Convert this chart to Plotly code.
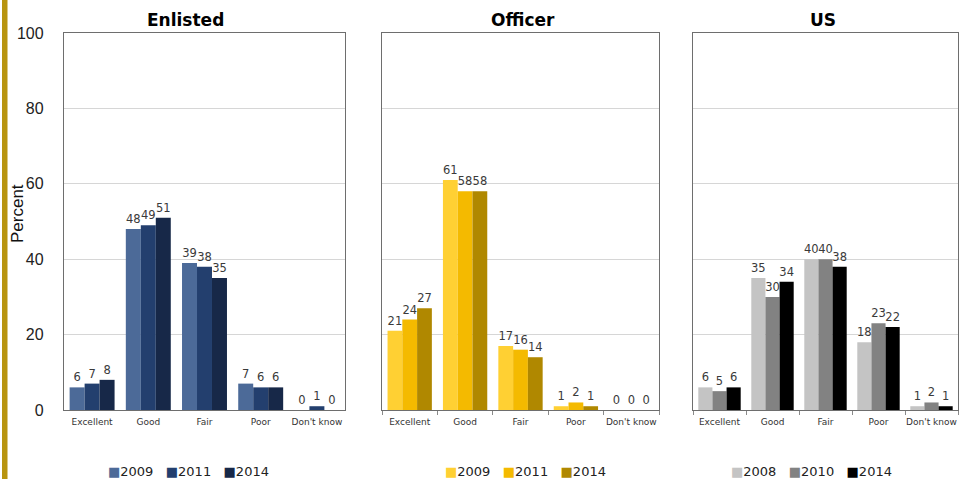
import plotly.graph_objects as go

# Self-rated health, percent by response category
categories = ["Excellent", "Good", "Fair", "Poor", "Don't know"]

enlisted_years = ["2009", "2011", "2014"]
enlisted_2009 = [6, 48, 39, 7, 0]
enlisted_2011 = [7, 49, 38, 6, 1]
enlisted_2014 = [8, 51, 35, 6, 0]

officer_years = ["2009", "2011", "2014"]
officer_2009 = [21, 61, 17, 1, 0]
officer_2011 = [24, 58, 16, 2, 0]
officer_2014 = [27, 58, 14, 1, 0]

us_years = ["2008", "2010", "2014"]
us_2008 = [6, 35, 40, 18, 1]
us_2010 = [5, 30, 40, 23, 2]
us_2014 = [6, 34, 38, 22, 1]

panel_titles = ["Enlisted", "Officer", "US"]
y_ticks = [0, 20, 40, 60, 80, 100]

enlisted_colors = ["#4C6A98", "#233F6E", "#172848"]
officer_colors = ["#FFD033", "#F4BA00", "#B08800"]
us_colors = ["#C4C4C4", "#828282", "#000000"]

W, H = 959, 479


def fx(px):
    return px / W


def fy(py):
    return 1 - py / H


FONT = "DejaVu Sans"
panels = [
    dict(years=enlisted_years, series=[enlisted_2009, enlisted_2011, enlisted_2014],
         colors=enlisted_colors, x=(64, 345), title_x=185, legend_x=188),
    dict(years=officer_years, series=[officer_2009, officer_2011, officer_2014],
         colors=officer_colors, x=(382, 659), title_x=523, legend_x=525),
    dict(years=us_years, series=[us_2008, us_2010, us_2014],
         colors=us_colors, x=(693, 958), title_x=823, legend_x=811),
]

fig = go.Figure()
annotations = []
layout_axes = {}

for i, p in enumerate(panels):
    n = "" if i == 0 else str(i + 1)
    for year, vals, col in zip(p["years"], p["series"], p["colors"]):
        fig.add_trace(go.Bar(
            x=categories, y=vals, name=year, marker=dict(color=col, line=dict(width=0)),
            xaxis="x" + n, yaxis="y" + n, showlegend=False,
            texttemplate="%{y}", textposition="outside", cliponaxis=False,
            constraintext="none",
            textfont=dict(family=FONT, size=11.5, color="#3A3A3A"),
        ))

    layout_axes["xaxis" + n] = dict(
        domain=[fx(p["x"][0]), fx(p["x"][1])], anchor="y" + n, automargin=False,
        type="category", showline=True, linecolor="#6E6E6E", linewidth=1.3, mirror=True,
        ticks="" if i == 0 else "outside", tickson="boundaries", ticklen=4,
        tickcolor="#8A8A8A", showgrid=False, tickangle=0, ticklabelstandoff=3,
        tickfont=dict(family=FONT, size=9, color="#333333"),
        fixedrange=True,
    )
    layout_axes["yaxis" + n] = dict(
        domain=[fy(410), fy(33)], anchor="x" + n, range=[0, 100], automargin=False,
        tickvals=y_ticks, showticklabels=(i == 0),
        showline=True, linecolor="#6E6E6E", linewidth=1.3, mirror=True,
        showgrid=True, gridcolor="#D6D6D6", gridwidth=1, zeroline=False,
        ticks="", ticklabelstandoff=16,
        tickfont=dict(family="Liberation Sans", size=16, color="#222222"),
        fixedrange=True,
    )

    annotations.append(dict(
        text="<b>%s</b>" % panel_titles[i], x=fx(p["title_x"]), y=fy(20),
        xref="paper", yref="paper", showarrow=False, xanchor="center", yanchor="middle",
        font=dict(family=FONT, size=17, color="#000000"),
    ))

    legend_text = "&nbsp;&nbsp;&nbsp;".join(
        "<span style='color:%s'>■</span>%s" % (c, y) for c, y in zip(p["colors"], p["years"])
    )
    annotations.append(dict(
        text=legend_text, x=fx(p["legend_x"]), y=fy(471),
        xref="paper", yref="paper", showarrow=False, xanchor="center", yanchor="middle",
        font=dict(family=FONT, size=13, color="#222222"),
    ))

annotations.append(dict(
    text="Percent", x=fx(17), y=fy(214), xref="paper", yref="paper", textangle=-90,
    showarrow=False, xanchor="center", yanchor="middle",
    font=dict(family="Liberation Sans", size=17, color="#111111"),
))

fig.update_layout(
    width=W, height=H, margin=dict(l=0, r=0, t=0, b=0, autoexpand=False),
    paper_bgcolor="white", plot_bgcolor="white",
    barmode="group", bargap=0.2, bargroupgap=0,
    annotations=annotations,
    shapes=[dict(type="rect", xref="paper", yref="paper",
                 x0=fx(2), x1=fx(7.5), y0=0, y1=1,
                 fillcolor="#B8940F", line=dict(width=0), layer="above")],
    **layout_axes,
)

fig.write_html("out.html", config={"displayModeBar": False})
